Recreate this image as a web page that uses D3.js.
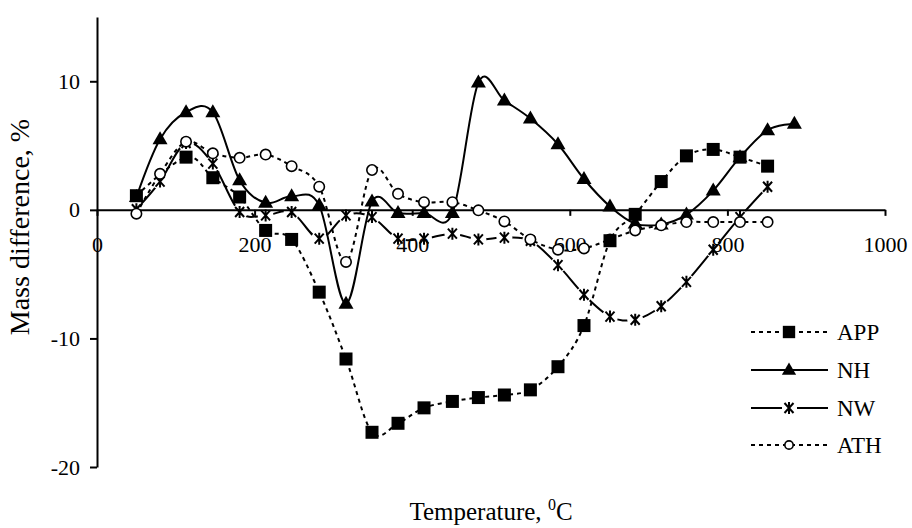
<!DOCTYPE html>
<html>
<head>
<meta charset="utf-8">
<script src="https://cdn.jsdelivr.net/npm/d3@7"></script>
<style>
body { margin: 0; background: #fff; }
svg text { font-family: "Liberation Serif", "Times New Roman", Times, "DejaVu Serif", serif !important; fill: #000; }
</style>
</head>
<body>
<svg id="chart" width="912" height="528"></svg>
<script>
// temperatures (deg C) shared by all series, null = no point
var temps = [50, 80, 113, 147, 181, 214, 247, 282, 316, 349, 382, 415, 451, 484, 517, 550, 585, 618, 651, 683, 716, 748, 782, 816, 851, 885];
var appVals = [1.1, null, 4.1, 2.5, 1.0, -1.6, -2.3, -6.4, -11.6, -17.3, -16.6, -15.4, -14.9, -14.6, -14.4, -14.0, -12.2, -9.0, -2.4, -0.35, 2.2, 4.2, 4.7, 4.1, 3.4, null];
var nhVals = [1.0, 5.5, 7.6, 7.6, 2.3, 0.55, 1.05, 0.35, -7.3, 0.65, -0.25, -0.25, -0.25, 9.9, 8.5, 7.1, 5.1, 2.4, 0.27, -1.07, -1.13, -0.37, 1.5, 4.1, 6.2, 6.7];
var nwVals = [0.05, 2.2, 5.2, 3.6, -0.17, -0.43, -0.17, -2.24, -0.43, -0.56, -2.24, -2.24, -1.85, -2.3, -2.16, -2.4, -4.3, -6.6, -8.3, -8.55, -7.5, -5.6, -3.1, -0.56, 1.8, null];
var athVals = [-0.3, 2.8, 5.3, 4.4, 4.05, 4.3, 3.4, 1.8, -4.05, 3.1, 1.25, 0.6, 0.6, -0.04, -0.9, -2.3, -3.1, -3.0, -2.3, -1.6, -1.2, -0.95, -0.95, -0.95, -0.95, null];

var seriesNames = ["APP", "NH", "NW", "ATH"];
var xTicks = [0, 200, 400, 600, 800, 1000];
var yTicks = [-20, -10, 0, 10];

var serif = "'Liberation Serif', 'Times New Roman', Times, serif";
var svg = d3.select("#chart");

var x = d3.scaleLinear().domain([0, 1000]).range([97, 885]);
var y = d3.scaleLinear().domain([-20, 15]).range([467, 17]);

function pts(vals) {
	var out = [];
	for (var i = 0; i < temps.length; i++) {
		if (vals[i] !== null) out.push({t: temps[i], v: vals[i]});
	}
	return out;
}

var series = [
	{name: seriesNames[0], data: pts(appVals), dash: "4,4", marker: "square"},
	{name: seriesNames[1], data: pts(nhVals), dash: null, marker: "triangle"},
	{name: seriesNames[2], data: pts(nwVals), dash: null, marker: "star"},
	{name: seriesNames[3], data: pts(athVals), dash: "4,4", marker: "circle"}
];

var plain = function(d) { return String(d); };

// axes
var xAxis = svg.append("g")
	.attr("transform", "translate(0," + y(0) + ")")
	.call(d3.axisBottom(x).tickValues(xTicks).tickFormat(plain).tickSize(6).tickSizeOuter(0).tickPadding(21));
var yAxis = svg.append("g")
	.attr("transform", "translate(" + x(0) + ",0)")
	.call(d3.axisLeft(y).tickValues(yTicks).tickFormat(plain).tickSize(7).tickSizeOuter(0).tickPadding(10));

[xAxis, yAxis].forEach(function(a) {
	a.attr("font-family", serif).attr("font-size", 22);
	a.selectAll("path, line").attr("stroke", "#000").attr("stroke-width", 2);
	a.selectAll("text").style("font-family", serif).attr("font-size", 22).attr("fill", "#000");
});

svg.append("text")
	.attr("transform", "translate(29,227) rotate(-90)")
	.attr("text-anchor", "middle")
	.style("font-family", serif)
	.attr("font-size", 28)
	.text("Mass difference, %");

var xt = svg.append("text")
	.attr("x", 491).attr("y", 520)
	.attr("text-anchor", "middle")
	.style("font-family", serif)
	.attr("font-size", 25);
xt.append("tspan").text("Temperature, ");
xt.append("tspan").attr("dy", -10).attr("font-size", 16).text("0");
xt.append("tspan").attr("dy", 10).text("C");

// mask so the NW line breaks around its markers
var defs = svg.append("defs");
var mask = defs.append("mask").attr("id", "nwmask").attr("maskUnits", "userSpaceOnUse");
mask.append("rect").attr("width", 912).attr("height", 528).attr("fill", "#fff");
mask.selectAll("circle")
	.data(series[2].data)
	.enter().append("circle")
	.attr("cx", function(d) { return x(d.t); })
	.attr("cy", function(d) { return y(d.v); })
	.attr("r", 8)
	.attr("fill", "#000");

var line = d3.line()
	.x(function(d) { return x(d.t); })
	.y(function(d) { return y(d.v); })
	.curve(d3.curveCardinal.tension(0));

series.forEach(function(s) {
	var p = svg.append("path")
		.datum(s.data)
		.attr("d", line)
		.attr("fill", "none")
		.attr("stroke", "#000")
		.attr("stroke-width", 2);
	if (s.dash) p.attr("stroke-dasharray", s.dash);
	if (s.name == "NW") p.attr("mask", "url(#nwmask)");
});

function drawMarker(g, type, scale) {
	var k = scale || 1;
	if (type == "square") {
		g.append("rect").attr("x", -6.5 * k).attr("y", -6.5 * k)
			.attr("width", 13 * k).attr("height", 13 * k).attr("fill", "#000");
	} else if (type == "triangle") {
		g.append("path").attr("d", "M0," + (-8 * k) + "L" + (7.5 * k) + "," + (5 * k) + "L" + (-7.5 * k) + "," + (5 * k) + "Z")
			.attr("fill", "#000");
	} else if (type == "star") {
		g.append("path").attr("d", "M-4.5,-5L4.5,5M4.5,-5L-4.5,5M0,-6L0,6")
			.attr("stroke", "#000").attr("stroke-width", 2).attr("fill", "none");
	} else if (type == "circle") {
		g.append("circle").attr("r", 5.2 * k).attr("fill", "#fff")
			.attr("stroke", "#000").attr("stroke-width", 1.6);
	}
}

// markers: APP last so squares sit on top
[1, 2, 3, 0].forEach(function(i) {
	var s = series[i];
	svg.append("g").selectAll("g")
		.data(s.data)
		.enter().append("g")
		.attr("transform", function(d) { return "translate(" + x(d.t) + "," + y(d.v) + ")"; })
		.each(function() { drawMarker(d3.select(this), s.marker); });
});

// legend
var legendY = [332, 370, 408, 445];
series.forEach(function(s, i) {
	var lg = svg.append("g").attr("transform", "translate(0," + legendY[i] + ")");
	if (s.name == "NW") {
		lg.append("line").attr("x1", 751).attr("x2", 782).attr("stroke", "#000").attr("stroke-width", 2);
		lg.append("line").attr("x1", 797).attr("x2", 828).attr("stroke", "#000").attr("stroke-width", 2);
	} else {
		var l = lg.append("line").attr("x1", 751).attr("x2", 828).attr("stroke", "#000").attr("stroke-width", 2);
		if (s.dash) l.attr("stroke-dasharray", s.dash);
	}
	var m = lg.append("g").attr("transform", "translate(789,0)");
	drawMarker(m, s.marker, s.marker == "circle" ? 0.8 : 0.95);
	lg.append("text").attr("x", 837).attr("y", 8).style("font-family", serif).attr("font-size", 23).text(s.name);
});
</script>
</body>
</html>
